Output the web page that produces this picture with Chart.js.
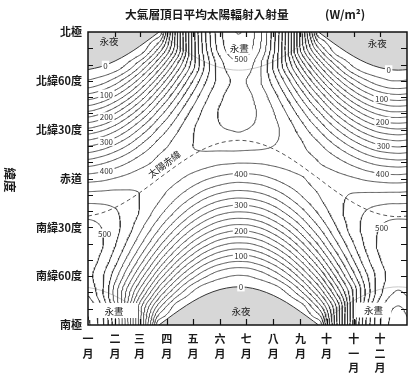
<!DOCTYPE html>
<html><head><meta charset="utf-8">
<script src="https://cdn.jsdelivr.net/npm/chart.js@4.4.1/dist/chart.umd.min.js"></script>
<style>html,body{margin:0;padding:0;background:#fff}#wrap{width:414px;height:383px;position:relative}</style>
</head><body><div id="wrap"><canvas id="c"></canvas></div>
<script>
// ---------- text ----------
const titleText = '大氣層頂日平均太陽輻射入射量';
const unitText = '(W/m²)';
const yTitle = '緯度';
const monthStarts = [0,31,59,90,120,151,181,212,243,273,304,334];
const monthLabels = [['一','月'],['二','月'],['三','月'],['四','月'],['五','月'],['六','月'],['七','月'],['八','月'],['九','月'],['十','月'],['十','一','月'],['十','二','月']];
const latTicks = [90,60,30,0,-30,-60,-90];
const latLabels = ['北極','北緯60度','北緯30度','赤道','南緯30度','南緯60度','南極'];

// ---------- insolation table (W/m2), columns = day of year, rows = latitude ----------
const days = [0,15,31,46,59,74,81,90,105,120,135,151,166,172,181,196,212,227,243,258,264,273,288,304,319,334,349,355,365];
const lats = [90,80,70,60,50,40,30,20,10,0,-10,-20,-30,-40,-50,-60,-70,-80,-90];
const q90N = [0,0,0,0,0,0,0,84,220,337,429,494,523,526,520,485,414,319,191,55,0,0,0,0,0,0,0,0,0];
const q80N = [0,0,0,0,7,47,76,124,220,332,422,487,515,518,512,478,408,314,198,106,75,39,3,0,0,0,0,0,0];
const q70N = [0,0,8,30,65,120,150,191,265,339,408,465,492,494,489,456,396,326,247,175,148,110,57,19,4,0,0,0,0];
const q60N = [27,38,61,96,136,191,219,256,318,375,424,460,477,479,475,454,414,364,301,240,216,180,127,82,52,34,25,25,27];
const q50N = [89,103,130,166,205,256,282,313,364,409,445,471,483,484,481,466,437,399,349,298,278,246,196,151,119,97,87,86,89];
const q40N = [159,173,200,235,270,314,336,361,401,434,459,477,484,485,483,472,452,425,388,347,331,304,261,220,189,168,157,157,159];
const q30N = [231,244,268,298,328,363,380,398,426,448,463,473,476,477,475,469,457,440,415,386,374,353,319,284,257,238,229,228,231];
const q20N = [299,310,330,353,376,401,412,423,439,450,455,457,458,458,457,455,450,443,430,413,406,392,368,342,320,304,297,296,299];
const q10N = [360,369,383,399,413,426,432,436,439,439,435,430,428,427,427,428,431,433,433,428,425,419,406,390,375,364,359,358,360];
const q00 = [414,418,426,433,438,439,438,435,427,415,403,393,387,386,387,391,401,412,422,430,432,433,432,427,420,415,412,412,414];
const q10S = [457,458,458,455,450,439,432,421,401,380,360,345,337,336,337,344,359,378,400,419,425,434,445,452,454,455,456,456,457];
const q20S = [488,485,477,464,449,425,412,395,364,334,308,288,279,278,279,288,308,334,365,395,406,422,445,464,476,484,488,488,488];
const q30S = [508,500,483,460,434,398,380,356,316,279,249,226,215,214,215,226,250,280,319,359,374,397,433,464,485,500,508,509,508];
const q40S = [515,503,477,443,407,360,336,307,259,217,184,159,148,147,148,160,186,220,265,312,331,361,407,450,482,505,516,517,515];
const q50S = [513,495,460,414,368,310,282,248,195,151,116,93,82,81,82,94,119,154,203,256,278,313,370,426,469,499,515,516,513];
const q60S = [506,482,435,376,319,252,219,183,127,83,52,32,24,23,24,34,55,87,136,192,216,257,324,392,447,488,509,511,506];
const q70S = [520,482,413,335,264,186,150,112,58,22,5,0,0,0,0,0,6,26,67,123,148,193,271,356,433,493,524,528,520];
const q80S = [545,505,424,319,215,117,76,41,4,0,0,0,0,0,0,0,0,0,9,52,75,126,226,353,450,517,550,553,545];
const q90S = [554,513,431,324,212,70,0,0,0,0,0,0,0,0,0,0,0,0,0,0,0,88,227,358,457,524,558,561,554];
const contourLevels = [25,50,75,100,125,150,175,200,225,250,275,300,325,350,375,400,425,450,475,500,525,550];

// sun's declination (dashed line, 太陽赤緯)
const declination = [-23.09,-21.30,-17.84,-13.37,-8.76,-2.92,0,3.52,9.32,14.50,18.72,21.85,23.29,23.44,23.19,21.55,18.23,13.86,8.20,2.32,0,-3.72,-9.50,-14.97,-19.08,-21.93,-23.32,-23.44,-23.09];
// polar night boundaries (0 W/m2)
const nightN1Days = [0,15,31,46,59,74,81.25];
const nightN1Lat  = [66.9,68.7,72.2,76.6,81.2,87.1,90];
const nightN2Days = [263.75,273,288,304,319,334,349,355,365];
const nightN2Lat  = [90,86.3,80.5,75.0,70.9,68.1,66.7,66.56,66.9];
const nightSDays  = [81.25,90,105,120,135,151,166,172,181,196,212,227,243,258,263.75];
const nightSLat   = [-90,-86.5,-80.7,-75.5,-71.3,-68.2,-66.7,-66.56,-66.8,-68.5,-71.8,-76.1,-81.8,-87.7,-90];
// polar day boundaries
const dayNDays  = [81.25,90,105,120,135,151,166,172,181,196,212,227,243,258,263.75];
const dayNLat   = [90,86.5,80.7,75.5,71.3,68.2,66.7,66.56,66.8,68.5,71.8,76.1,81.8,87.7,90];
const dayS1Days = [0,15,31,46,59,74,81.25];
const dayS1Lat  = [-66.9,-68.7,-72.2,-76.6,-81.2,-87.1,-90];
const dayS2Days = [263.75,273,288,304,319,334,349,355,365];
const dayS2Lat  = [-90,-86.3,-80.5,-75.0,-70.9,-68.1,-66.7,-66.56,-66.9];

// labels: [day, lat, text]
const contourLabels = [
  [20,69.6,'0'],[21,51.9,'100'],[21,37.9,'200'],[21,22.8,'300'],[21,5,'400'],
  [344,66.8,'0'],[336,49.2,'100'],[337,35.1,'200'],[338,20.5,'300'],[337,2.9,'400'],
  [175,3.4,'400'],[175,-16,'300'],[175,-31.8,'200'],[175,-47,'100'],[175,-66.6,'0'],
  [175,73.5,'500'],[19,-33.5,'500'],[336,-29.9,'500']
];
// [day, lat, text, boxWidth, boxHeight]
const regionLabels = [
  [24,84.5,'永夜',0,0],[331,83.2,'永夜',0,0],[173,80.2,'永晝',26,12],
  [175,-81.4,'永夜',0,0],[29.7,-81.1,'永晝',48,15],[326.7,-80.8,'永晝',36,15]
];
const sunLabel = [87, 9.0, '太陽赤緯'];

// ---------- build smooth field & contours ----------
const qRows = [q90N,q80N,q70N,q60N,q50N,q40N,q30N,q20N,q10N,q00,q10S,q20S,q30S,q40S,q50S,q60S,q70S,q80S,q90S];
function fcSlopes(xs, ys){
  const n = xs.length, d = [], m = new Array(n);
  for (let i=0;i<n-1;i++) d.push((ys[i+1]-ys[i])/(xs[i+1]-xs[i]));
  m[0]=d[0]; m[n-1]=d[n-2];
  for (let i=1;i<n-1;i++){
    if (d[i-1]*d[i] <= 0) m[i]=0;
    else { const h0=xs[i]-xs[i-1], h1=xs[i+1]-xs[i]; const w1=2*h1+h0, w2=h1+2*h0; m[i]=(w1+w2)/(w1/d[i-1]+w2/d[i]); }
  }
  return m;
}
function evalH(xs, ys, m, x){
  let lo=0, hi=xs.length-1;
  while (hi-lo>1){ const mid=(lo+hi)>>1; if (xs[mid]<=x) lo=mid; else hi=mid; }
  const h=xs[hi]-xs[lo], t=(x-xs[lo])/h, t2=t*t, t3=t2*t;
  return (2*t3-3*t2+1)*ys[lo] + (t3-2*t2+t)*h*m[lo] + (-2*t3+3*t2)*ys[hi] + (t3-t2)*h*m[hi];
}
const fineLats=[]; for (let v=90; v>=-90; v-=1) fineLats.push(v);
const fineDays=[]; for (let d=0; d<=365; d+=1) fineDays.push(d);
const latAsc = lats.slice().reverse();
const colFine = days.map((_,j)=>{ const ys=qRows.map(r=>r[j]).reverse(); const m=fcSlopes(latAsc,ys); return fineLats.map(l=>evalH(latAsc,ys,m,l)); });
const nC = days.length;
const dExt = [days[nC-2]-365, ...days, days[1]+365];
const grid = fineLats.map((l,k)=>{ const ys=[colFine[nC-2][k], ...colFine.map(c=>c[k]), colFine[1][k]]; const m=fcSlopes(dExt,ys); return fineDays.map(d=>evalH(dExt,ys,m,d)); });

function contourLines(level){
  const H=fineLats.length, W=fineDays.length, pts=new Map(), adj=new Map();
  const link=(a,b)=>{ if(!adj.has(a)) adj.set(a,[]); if(!adj.has(b)) adj.set(b,[]); adj.get(a).push(b); adj.get(b).push(a); };
  for (let k=0;k<H-1;k++) for (let i=0;i<W-1;i++){
    const a=grid[k][i], b=grid[k][i+1], c=grid[k+1][i+1], d=grid[k+1][i];
    const idx=(a>=level?8:0)|(b>=level?4:0)|(c>=level?2:0)|(d>=level?1:0);
    if (idx===0||idx===15) continue;
    const x0=fineDays[i], x1=fineDays[i+1], y0=fineLats[k], y1=fineLats[k+1];
    const T=()=>{const id=(k*W+i)*2; if(!pts.has(id)) pts.set(id,[x0+(level-a)/(b-a)*(x1-x0),y0]); return id;};
    const B=()=>{const id=((k+1)*W+i)*2; if(!pts.has(id)) pts.set(id,[x0+(level-d)/(c-d)*(x1-x0),y1]); return id;};
    const L=()=>{const id=(k*W+i)*2+1; if(!pts.has(id)) pts.set(id,[x0,y0+(level-a)/(d-a)*(y1-y0)]); return id;};
    const R=()=>{const id=(k*W+i+1)*2+1; if(!pts.has(id)) pts.set(id,[x1,y0+(level-b)/(c-b)*(y1-y0)]); return id;};
    const ctr=(a+b+c+d)/4;
    switch(idx){
      case 1: case 14: link(L(),B()); break;
      case 2: case 13: link(B(),R()); break;
      case 3: case 12: link(L(),R()); break;
      case 4: case 11: link(T(),R()); break;
      case 6: case 9: link(T(),B()); break;
      case 7: case 8: link(T(),L()); break;
      case 5: if (ctr>=level){ link(T(),L()); link(B(),R()); } else { link(T(),R()); link(L(),B()); } break;
      case 10: if (ctr>=level){ link(T(),R()); link(L(),B()); } else { link(T(),L()); link(B(),R()); } break;
    }
  }
  const lines=[];
  const trace=(start)=>{ const path=[pts.get(start)]; let cur=start;
    while(true){ const nb=adj.get(cur); if(!nb||!nb.length) break; const nx=nb.pop(); const back=adj.get(nx); const bi=back.indexOf(cur); if(bi>=0) back.splice(bi,1); path.push(pts.get(nx)); cur=nx; }
    return path; };
  for (const [id,nb] of adj) if (nb.length===1) lines.push(trace(id));
  for (const [id,nb] of adj) if (nb.length>0) lines.push(trace(id));
  return lines;
}
const contourData=[];
contourLevels.forEach(lv=>{ contourLines(lv).forEach(pl=>{ pl.forEach(p=>contourData.push({x:p[0],y:p[1]})); contourData.push({x:pl[pl.length-1][0],y:null}); }); });

const toPts=(xs,ys)=>xs.map((x,i)=>({x:x,y:ys[i]}));
const FONT = "'Noto Sans CJK TC','Noto Sans CJK JP','Noto Sans',sans-serif";
const GREY = '#d7d7d7';
const LINE = '#363636';

const baseLine = {pointRadius:0, pointHoverRadius:0, spanGaps:false};
const datasets = [
  Object.assign({data:toPts(nightN1Days,nightN1Lat), fill:'end', backgroundColor:GREY, borderColor:LINE, borderWidth:1, cubicInterpolationMode:'monotone', order:10}, baseLine),
  Object.assign({data:toPts(nightN2Days,nightN2Lat), fill:'end', backgroundColor:GREY, borderColor:LINE, borderWidth:1, cubicInterpolationMode:'monotone', order:10}, baseLine),
  Object.assign({data:toPts(nightSDays,nightSLat), fill:'start', backgroundColor:GREY, borderColor:LINE, borderWidth:1, cubicInterpolationMode:'monotone', order:10}, baseLine),
  Object.assign({data:toPts(dayNDays,dayNLat), fill:false, borderColor:'#c9c9c9', borderWidth:1, cubicInterpolationMode:'monotone', order:9}, baseLine),
  Object.assign({data:toPts(dayS1Days,dayS1Lat), fill:false, borderColor:'#c9c9c9', borderWidth:1, cubicInterpolationMode:'monotone', order:9}, baseLine),
  Object.assign({data:toPts(dayS2Days,dayS2Lat), fill:false, borderColor:'#c9c9c9', borderWidth:1, cubicInterpolationMode:'monotone', order:9}, baseLine),
  Object.assign({data:contourData, fill:false, borderColor:LINE, borderWidth:0.85, tension:0, order:5}, baseLine),
  Object.assign({data:toPts(days,declination), fill:false, borderColor:'#555', borderWidth:1, borderDash:[4,3], cubicInterpolationMode:'monotone', order:1}, baseLine)
];

const decorPlugin = {
  id:'decor',
  afterDatasetsDraw(chart){
    const ctx=chart.ctx, xs=chart.scales.x, ys=chart.scales.y;
    ctx.save();
    ctx.font = "8px "+FONT; ctx.textAlign='center'; ctx.textBaseline='middle';
    contourLabels.forEach(([d,l,t])=>{
      const px=xs.getPixelForValue(d), py=ys.getPixelForValue(l);
      const w=ctx.measureText(t).width+3;
      ctx.fillStyle='#fff'; ctx.fillRect(px-w/2,py-4.5,w,9);
      ctx.fillStyle='#333'; ctx.fillText(t,px,py+0.5);
    });
    ctx.font = "9.5px "+FONT;
    regionLabels.forEach(([d,l,t,bw,bh])=>{
      const px=xs.getPixelForValue(d), py=ys.getPixelForValue(l);
      if (bw>0){ ctx.fillStyle='#fff'; ctx.fillRect(px-bw/2,py-bh/2,bw,bh); }
      ctx.fillStyle='#222'; ctx.fillText(t,px,py+0.5);
    });
    {
      const px=xs.getPixelForValue(sunLabel[0]), py=ys.getPixelForValue(sunLabel[1]);
      ctx.translate(px,py); ctx.rotate(-37*Math.PI/180);
      ctx.font="9.5px "+FONT;
      const w=ctx.measureText(sunLabel[2]).width+2;
      ctx.fillStyle='#fff'; ctx.fillRect(-w/2,-6,w,12);
      ctx.fillStyle='#222'; ctx.fillText(sunLabel[2],0,0.5);
    }
    ctx.restore();
  },
  afterDraw(chart){
    const ctx=chart.ctx, a=chart.chartArea, xs=chart.scales.x, ys=chart.scales.y;
    ctx.save();
    ctx.strokeStyle='#111'; ctx.lineWidth=1.2;
    ctx.beginPath();
    monthStarts.forEach(m=>{ if(m===0) return; const px=Math.round(xs.getPixelForValue(m))+0.5;
      ctx.moveTo(px,a.bottom); ctx.lineTo(px,a.bottom-6); ctx.moveTo(px,a.top); ctx.lineTo(px,a.top+5); });
    for (let l=-80;l<=80;l+=10){ const py=Math.round(ys.getPixelForValue(l))+0.5;
      ctx.moveTo(a.left,py); ctx.lineTo(a.left+5,py); ctx.moveTo(a.right,py); ctx.lineTo(a.right-6,py); }
    ctx.stroke();
    ctx.lineWidth=1.5; ctx.strokeRect(a.left,a.top,a.right-a.left,a.bottom-a.top);
    ctx.fillStyle='#1a1a1a'; ctx.textBaseline='middle'; ctx.textAlign='left';
    ctx.font="bold 11.7px "+FONT;
    ctx.fillText(titleText,125,15);
    ctx.fillText(unitText,325,15);
    ctx.translate(10,180); ctx.rotate(Math.PI/2);
    ctx.font="bold 12.5px "+FONT; ctx.textAlign='center';
    ctx.fillText(yTitle,0,0);
    ctx.restore();
  }
};

new Chart(document.getElementById('c'), {
  type:'line',
  data:{datasets:datasets},
  options:{
    responsive:true, maintainAspectRatio:false, animation:false, events:[],
    layout:{padding:{top:32,right:7,left:0,bottom:0}},
    plugins:{legend:{display:false}, tooltip:{enabled:false}, title:{display:false}},
    scales:{
      x:{type:'linear', min:0, max:365, position:'bottom',
        grid:{display:false, drawTicks:false}, border:{display:false},
        afterBuildTicks:s=>{ s.ticks = monthStarts.map(v=>({value:v})); },
        afterFit:s=>{ s.height = 58; },
        ticks:{autoSkip:false, maxRotation:0, minRotation:0, padding:7, color:'#1a1a1a',
          font:{family:FONT, size:11, weight:'bold', lineHeight:1.32},
          callback:(v)=>monthLabels[monthStarts.indexOf(v)] }
      },
      y:{type:'linear', min:-90, max:90,
        grid:{display:false, drawTicks:false}, border:{display:false},
        afterBuildTicks:s=>{ s.ticks = latTicks.map(v=>({value:v})); },
        afterFit:s=>{ s.width = 88; },
        ticks:{autoSkip:false, padding:6, color:'#1a1a1a',
          font:{family:FONT, size:11, weight:'bold'},
          callback:(v)=>latLabels[latTicks.indexOf(v)] }
      }
    }
  },
  plugins:[decorPlugin]
});
</script></body></html>
